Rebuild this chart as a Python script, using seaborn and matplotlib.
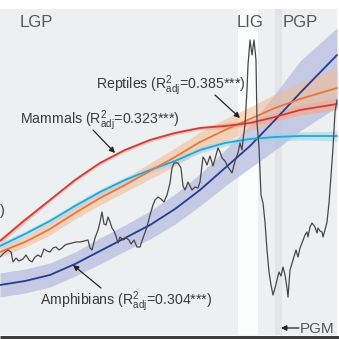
import numpy as np
import pandas as pd
import matplotlib
matplotlib.use("Agg")
import matplotlib.pyplot as plt
import seaborn as sns

# ---------------- data (x = time position, y = plotted level; y axis inverted) ----------------
fit_x = [0, 25, 50, 75, 100, 125, 150, 175, 200, 225, 250, 275, 300, 337]

mammals_y = [241, 220, 200, 180, 163, 150, 140, 133, 128, 126, 123, 117, 110, 104]
mammals_hw = [3, 3, 2, 2, 2, 2, 2, 2, 2, 3, 3, 4, 5, 6]

reptiles_y = [252, 242, 229, 213, 198, 185, 171, 157, 142, 130, 119, 108, 99, 88]
reptiles_hw = [5, 5, 6, 6, 7, 7, 8, 9, 10, 11, 12, 14, 16, 20]

birds_y = [246, 234, 221, 206, 192, 180, 170, 161, 150, 143, 139, 137, 136, 136]
birds_hw = [3, 3, 3, 3, 3, 3, 3, 3, 3, 3, 3, 4, 4, 5]

amphib_y = [285, 281, 275, 264, 251, 238, 225, 209, 190, 168, 146, 120, 93, 55]
amphib_up = [12, 12, 12, 12, 13, 13, 14, 15, 16, 18, 21, 26, 32, 27]
amphib_lo = [12, 12, 12, 12, 13, 13, 14, 15, 16, 18, 22, 30, 38, 52]

clim_x = [0, 4, 8, 11, 13, 16, 19, 23, 26, 29, 32, 35, 38, 41, 44, 47, 50, 53, 56, 59,
          62, 65, 68, 72, 76, 80, 84, 88, 90, 92, 95, 98, 100, 102, 104, 106, 108, 110,
          112, 114, 116, 118, 120, 123, 126, 129, 131, 134, 137, 140, 143, 147, 150, 153,
          155, 158, 161, 164, 167, 170, 172, 174, 178, 181, 183, 185, 188, 190, 192, 195,
          198, 200, 202, 203, 205, 207, 210, 213, 216, 218, 220, 222, 225, 228, 230, 232,
          234, 236, 238, 240, 242, 243, 245, 247, 248, 250, 252, 254, 256, 257, 259, 260,
          261, 263, 265, 267, 269, 271, 273, 275, 277, 279, 281, 283, 285, 287, 288, 290,
          293, 296, 298, 300, 302, 305, 307, 308, 310, 312, 315, 317, 318, 320, 322, 323,
          325, 327, 329, 331, 333, 335, 337]
clim_y = [257, 253, 250, 252, 262, 258, 261, 259, 255, 260, 262, 257, 255, 257, 249, 251,
          252, 248, 247, 250, 248, 245, 244, 243, 242, 242, 241, 240, 248, 250, 238, 230,
          222, 212, 224, 225, 217, 222, 228, 231, 236, 243, 237, 240, 238, 240, 244, 240,
          247, 247, 238, 227, 215, 205, 200, 197, 199, 202, 195, 183, 168, 163, 163, 168,
          186, 190, 182, 186, 190, 187, 188, 182, 165, 157, 160, 165, 156, 166, 155, 148,
          152, 158, 161, 167, 170, 173, 165, 158, 153, 143, 150, 140, 125, 90, 65, 40, 55,
          40, 60, 123, 147, 170, 195, 203, 222, 250, 272, 285, 295, 288, 280, 272, 276, 267,
          275, 288, 297, 270, 260, 250, 257, 248, 243, 235, 232, 237, 227, 223, 227, 233,
          228, 231, 232, 237, 230, 222, 203, 175, 148, 112, 100]

period_labels = ["LGP", "LIG", "PGP"]
fit_labels = ["Reptiles", "Mammals", "Amphibians"]
fit_r2 = ["0.385", "0.323", "0.304"]

# ---------------- style ----------------
sns.set_style("white")
plt.rcParams["font.family"] = ["Liberation Sans", "DejaVu Sans"]
plt.rcParams["mathtext.fontset"] = "custom"
plt.rcParams["mathtext.rm"] = "Liberation Sans"
plt.rcParams["mathtext.it"] = "Liberation Sans:italic"

C_RED = "#cf3d34"
C_ORANGE = "#e9773c"
C_CYAN = "#27a6d3"
C_NAVY = "#2b3a8e"
C_BLACK = "#474747"
C_TEXT = "#3a3a3a"

fig = plt.figure(figsize=(3.39, 3.39), dpi=100)
ax = fig.add_axes([0, 0, 1, 1])
ax.set_xlim(0, 339)
ax.set_ylim(339, 0)
ax.axis("off")

# panel background
ax.fill_between([0, 337], 9, 335, color="#edf0f1", lw=0, zorder=0)
ax.fill_between([238, 258], 9, 335, color="#fbfcfc", lw=0, zorder=0.1)
ax.fill_between([275, 282], 9, 335, color="#e1e5e7", lw=0, zorder=0.1)
ax.plot([0, 339], [336.5, 336.5], color="#3e3e3e", lw=2.2, zorder=5, solid_capstyle="butt")

fx = np.array(fit_x, dtype=float)

def band(y, up, lo, color, alpha):
    y = np.array(y, dtype=float)
    ax.fill_between(fx, y - np.array(up), y + np.array(lo), color=color, alpha=alpha, lw=0, zorder=1)

band(amphib_y, amphib_up, amphib_lo, "#b7bce0", 0.75)
band(reptiles_y, reptiles_hw, reptiles_hw, "#f7b98f", 0.55)
band(mammals_y, mammals_hw, mammals_hw, "#f0a49a", 0.5)
band(birds_y, birds_hw, birds_hw, "#9fd6ef", 0.6)

df_fit = pd.DataFrame({"x": fit_x, "Mammals": mammals_y, "Reptiles": reptiles_y,
                       "Birds": birds_y, "Amphibians": amphib_y})
for name, col in [("Amphibians", C_NAVY), ("Birds", C_CYAN), ("Reptiles", C_ORANGE), ("Mammals", C_RED)]:
    sns.lineplot(data=df_fit, x="x", y=name, ax=ax, color=col, lw=1.3, estimator=None,
                 sort=False, zorder=3)

df_clim = pd.DataFrame({"x": clim_x, "y": clim_y})
sns.lineplot(data=df_clim, x="x", y="y", ax=ax, color=C_BLACK, lw=0.9, estimator=None,
             sort=False, zorder=4)
ax.set_xlim(0, 339)
ax.set_ylim(339, 0)
ax.axis("off")

# period labels
for lab, xp in zip(period_labels, [20, 237, 283]):
    ax.text(xp, 27, lab, fontsize=12, color="#555555", ha="left", va="baseline", zorder=6)

# fit labels
def fit_text(name, r2):
    return name + r" (R$^{2}_{\mathregular{adj}}$=" + r2 + "***)"

ax.text(96, 89, fit_text(fit_labels[0], fit_r2[0]), fontsize=10.2, color=C_TEXT, va="baseline", zorder=6)
ax.text(20, 124, fit_text(fit_labels[1], fit_r2[1]), fontsize=10.2, color=C_TEXT, va="baseline", zorder=6)
ax.text(40, 305, fit_text(fit_labels[2], fit_r2[2]), fontsize=10.2, color=C_TEXT, va="baseline", zorder=6)
ax.text(0, 215, ")", fontsize=10.2, color=C_TEXT, va="baseline", zorder=6)

arrow_kw = dict(arrowstyle="-|>", color="#222222", lw=0.9, mutation_scale=8, shrinkA=0, shrinkB=0)
ax.annotate("", xy=(115, 153), xytext=(93, 130), arrowprops=arrow_kw, zorder=6)
ax.annotate("", xy=(240, 118), xytext=(215, 95), arrowprops=arrow_kw, zorder=6)
ax.annotate("", xy=(73, 265), xytext=(101, 288), arrowprops=arrow_kw, zorder=6)
ax.annotate("", xy=(281, 328), xytext=(299, 328), arrowprops=arrow_kw, zorder=6)
ax.text(300, 333, "PGM", fontsize=11, color="#555555", va="baseline", zorder=6)

fig.savefig("out.png", dpi=100)
